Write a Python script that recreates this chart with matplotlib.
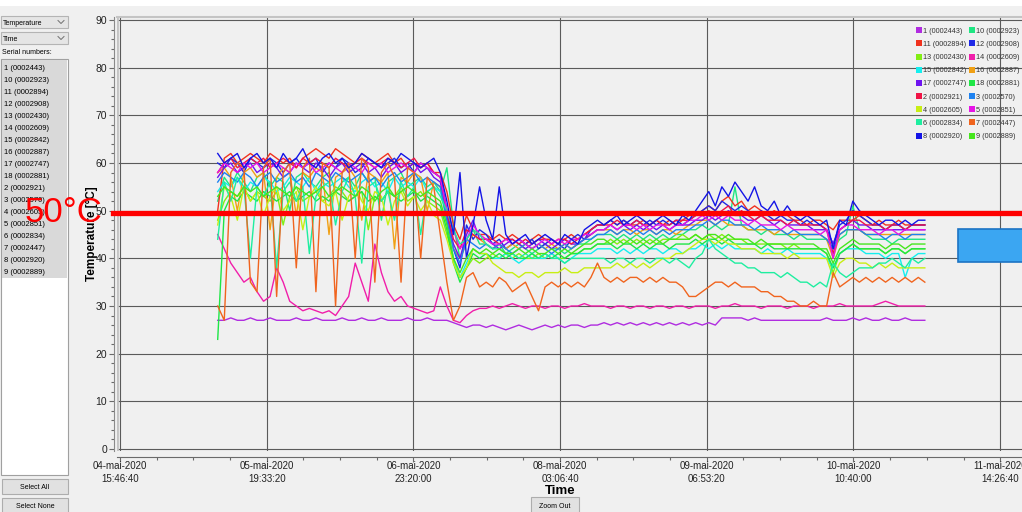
import numpy as np
import matplotlib
matplotlib.use("Agg")
import matplotlib.pyplot as plt
from matplotlib.patches import Rectangle
from matplotlib.lines import Line2D
from matplotlib.ticker import MultipleLocator

W, H = 1022, 512
SANS = ['Liberation Sans', 'DejaVu Sans']

# logger samples, hours after 04-mai-2020 15:46:40
hours = np.linspace(18.5, 152.4, 109)

tick_hours = [0, 27.778, 55.556, 83.333, 111.111, 138.889, 166.667]
tick_labels = ['04-mai-2020\n15:46:40', '05-mai-2020\n19:33:20', '06-mai-2020\n23:20:00',
               '08-mai-2020\n03:06:40', '09-mai-2020\n06:53:20', '10-mai-2020\n10:40:00',
               '11-mai-2020\n14:26:40']

serials = ['1 (0002443)', '10 (0002923)', '11 (0002894)', '12 (0002908)', '13 (0002430)',
           '14 (0002609)', '15 (0002842)', '16 (0002887)', '17 (0002747)', '18 (0002881)',
           '2 (0002921)', '3 (0002570)', '4 (0002605)', '5 (0002851)', '6 (0002834)',
           '7 (0002447)', '8 (0002920)', '9 (0002889)']
colors = ['#B02CE0', '#1EE682', '#F0321E', '#1E28E6', '#82EE14', '#F01EAA', '#14EEEE', '#F0A014',
          '#6E14F0', '#1EE646', '#F01446', '#1E82F0', '#C8EE14', '#E614E6', '#1EEEA0', '#F0641E',
          '#1414E6', '#46E61E']

# temperatures [°C]
temp_1 = [27, 27, 27.5, 27, 27, 27.5, 27, 27, 27.5, 27, 27, 27, 27.5, 27, 27, 27.5, 27, 27,
          27, 27.5, 27, 27, 27.5, 27, 27, 27.5, 27, 27, 27, 27.5, 27, 27, 27.5, 27, 27,
          27, 26.5, 26, 25.5, 26, 26,
          25.5, 26, 25.5, 25, 25.5, 26, 25.5, 25, 25.5, 26, 25.5, 26, 25.5, 26, 26, 25.5, 26, 26,
          26.5, 26, 26.5, 26, 26.5, 26, 26.5, 26, 26.5, 26, 26.5, 26, 26.5, 26, 26.5, 26, 26.5,
          26, 27.5, 27.5, 27.5, 27.5, 27, 27.5, 27, 27, 27, 27, 27, 27, 27, 27, 27, 27, 27.5,
          27, 27, 27, 27.5, 27, 27.5, 27, 27, 27.5, 27, 27, 27.5, 27, 27, 27]
temp_10 = [52, 57, 55, 58, 56, 54, 57, 58, 55, 57, 56, 50, 57, 58, 56, 55, 57, 58, 54, 56,
           57, 55, 58, 56, 57, 48, 56, 57, 58, 55, 56, 57, 55, 56, 54,
           59, 47, 40, 44, 46, 43,
           43, 42, 43, 41, 42, 43, 42, 41, 42, 43, 42, 42, 41, 42, 43, 43, 44, 45,
           45, 45, 44, 45, 44, 45, 44, 45, 44, 45, 44, 45, 45, 46, 46, 47, 46, 47, 46, 47,
           55, 47, 46, 46, 45, 46, 45, 45, 45, 44, 45, 44, 44, 44, 44, 42, 44, 45, 51, 46,
           45, 44, 44, 44, 43, 44, 44, 44, 44, 44]
temp_11 = [50, 61, 62, 60, 61, 62, 61, 60, 62, 61, 60, 61, 59, 61, 62, 63, 62, 61, 63, 62,
           61, 60, 62, 61, 60, 61, 62, 60, 61, 59, 60, 59, 60, 58, 58,
           54, 47, 44, 49, 46, 45,
           45, 44, 45, 44, 45, 44, 43, 44, 45, 44, 44, 43, 44, 45, 44, 45, 46, 47,
           47, 48, 47, 48, 47, 47, 48, 47, 48, 47, 48, 47, 48, 49, 49, 50, 51, 50, 52, 53,
           51, 52, 50, 51, 50, 49, 50, 49, 49, 48, 48, 47, 48, 48, 47, 46, 48, 48, 48, 49,
           48, 47, 48, 47, 47, 48, 47, 47, 47, 47]
temp_12 = [60, 59, 61, 60, 58, 61, 60, 59, 61, 60, 58, 60, 61, 59, 60, 61, 58, 60, 59, 61,
           60, 58, 59, 61, 60, 59, 60, 61, 59, 60, 58, 60, 59, 58, 57,
           50, 42, 38, 47, 44, 46,
           45, 43, 44, 42, 43, 44, 43, 44, 42, 43, 44, 43, 42, 44, 45, 44, 46, 47,
           47, 48, 47, 48, 47, 48, 47, 48, 47, 48, 47, 48, 47, 48, 49, 50, 51, 50, 52, 51,
           50, 51, 50, 49, 50, 49, 48, 49, 48, 48, 47, 48, 47, 47, 46, 43, 47, 48, 50, 49,
           48, 47, 47, 46, 47, 47, 46, 47, 47, 47]
temp_13 = [48, 52, 54, 53, 55, 52, 54, 53, 52, 54, 47, 53, 55, 52, 53, 54, 52, 53, 55, 54,
           52, 53, 54, 46, 53, 52, 54, 53, 55, 52, 53, 54, 52, 51, 50,
           45, 40, 36, 38, 40, 39,
           40, 41, 40, 41, 40, 41, 40, 40, 41, 40, 41, 40, 40, 41, 41, 42, 42, 43,
           43, 44, 43, 44, 43, 44, 43, 44, 43, 44, 44, 44, 45, 44, 45, 44, 45, 44, 45, 44,
           44, 44, 43, 43, 43, 43, 43, 43, 42, 43, 42, 42, 42, 42, 41, 37, 41, 42, 43, 42,
           42, 42, 42, 41, 42, 42, 41, 42, 42, 42]
temp_14 = [45, 42, 39, 37, 35, 36, 33, 31, 32, 38, 35, 31, 30, 29, 29.5, 29, 28.5, 29, 28, 30,
           32, 39, 35, 31, 43, 37, 33, 31, 32, 30, 29.5, 29, 28.5, 29, 34,
           30, 27, 26.5, 28, 29, 29.5,
           29.5, 30, 29.5, 30, 30.5, 30, 29.5, 30, 30, 29.5, 30, 30, 29.5, 30, 30, 30.5, 30, 30,
           30, 29.5, 30, 30, 29.5, 30, 30, 29.5, 30, 30, 29.5, 30, 30, 29.5, 30, 30, 30, 29.5,
           30, 30, 30.5, 30, 30, 30, 29.5, 30, 30, 30, 29.5, 30, 30, 30, 29.5, 30, 30, 30, 30.5,
           30, 30, 30, 30, 30, 30.5, 31, 30.5, 30, 30, 30, 30, 30]
temp_15 = [54, 56, 55, 57, 54, 56, 55, 57, 56, 54, 55, 57, 56, 55, 57, 54, 56, 55, 56, 57,
           55, 54, 56, 57, 55, 56, 54, 57, 55, 56, 55, 57, 54, 55, 54,
           48, 40, 36, 39, 42, 41,
           41, 40, 40, 41, 40, 39, 40, 41, 40, 40, 41, 40, 39, 40, 41, 41, 41, 42,
           42, 42, 41, 42, 41, 42, 41, 42, 42, 41, 42, 42, 41, 42, 42, 43, 42, 43, 42, 43,
           42, 42, 42, 42, 41, 42, 41, 41, 42, 41, 41, 41, 41, 41, 40, 38, 41, 42, 42, 42,
           41, 41, 41, 40, 41, 41, 36, 40, 41, 41]
temp_16 = [58, 59, 57, 50, 58, 59, 57, 58, 46, 57, 59, 58, 49, 58, 57, 59, 58, 45, 57, 58,
           59, 57, 48, 58, 57, 56, 58, 42, 57, 56, 58, 57, 50, 56, 55,
           48, 42, 40, 43, 45, 44,
           43, 42, 43, 42, 43, 42, 43, 42, 43, 42, 43, 42, 43, 42, 43, 44, 45, 46,
           46, 46, 45, 46, 46, 45, 46, 46, 45, 46, 46, 45, 46, 47, 47, 48, 48, 47, 48, 47,
           47, 47, 46, 46, 46, 46, 45, 46, 45, 45, 45, 45, 45, 45, 44, 40, 45, 46, 46, 46,
           45, 45, 45, 45, 45, 45, 45, 45, 45, 45]
temp_17 = [57, 59, 60, 58, 59, 60, 58, 59, 60, 59, 57, 58, 60, 59, 58, 60, 59, 57, 59, 60,
           58, 59, 60, 58, 59, 57, 59, 60, 58, 59, 60, 58, 59, 57, 56,
           49, 43, 40, 45, 48, 44,
           44, 43, 42, 43, 44, 43, 42, 43, 44, 43, 42, 43, 44, 43, 43, 44, 45, 46,
           46, 47, 46, 47, 46, 47, 46, 47, 46, 47, 46, 47, 47, 47, 48, 48, 49, 48, 49, 50,
           49, 49, 48, 48, 49, 48, 47, 48, 47, 47, 47, 47, 46, 46, 46, 43, 46, 47, 48, 47,
           47, 46, 46, 46, 46, 46, 46, 46, 46, 46]
temp_18 = [23, 50, 53, 52, 54, 53, 52, 54, 53, 52, 53, 54, 52, 53, 54, 52, 53, 52, 54, 53,
           52, 53, 54, 52, 53, 52, 54, 53, 52, 53, 54, 52, 53, 52, 51,
           46, 39, 35, 38, 41, 40,
           41, 40, 41, 40, 41, 40, 40, 41, 40, 41, 40, 41, 40, 41, 41, 42, 42, 43,
           43, 43, 42, 43, 43, 42, 43, 42, 43, 43, 42, 43, 43, 43, 44, 43, 44, 44, 43, 44,
           43, 43, 43, 43, 42, 43, 42, 42, 42, 42, 42, 42, 42, 42, 41, 38, 41, 42, 43, 42,
           42, 42, 42, 41, 42, 42, 41, 42, 42, 42]
temp_2 = [58, 60, 61, 59, 60, 61, 60, 61, 59, 60, 61, 60, 59, 61, 60, 61, 60, 59, 61, 60,
          59, 60, 61, 60, 59, 60, 61, 60, 59, 60, 61, 59, 60, 58, 57,
          50, 44, 42, 46, 45, 44,
          44, 44, 43, 44, 44, 43, 44, 43, 44, 44, 43, 44, 44, 43, 44, 45, 46, 47,
          47, 47, 48, 47, 47, 48, 47, 47, 48, 47, 47, 48, 48, 48, 49, 49, 50, 49, 50, 51,
          49, 50, 49, 48, 49, 48, 48, 48, 47, 48, 47, 47, 47, 47, 46, 41, 46, 47, 48, 48,
          47, 47, 47, 46, 47, 47, 46, 47, 47, 47]
temp_3 = [56, 58, 57, 56, 58, 57, 55, 57, 58, 56, 57, 58, 56, 57, 55, 58, 57, 56, 58, 57,
          56, 57, 58, 56, 57, 55, 57, 58, 56, 57, 58, 56, 57, 56, 55,
          48, 42, 39, 44, 43, 42,
          43, 42, 43, 42, 41, 42, 43, 42, 43, 42, 41, 42, 43, 42, 43, 44, 44, 45,
          45, 46, 45, 46, 45, 46, 45, 46, 45, 46, 45, 46, 46, 46, 47, 47, 48, 47, 48, 48,
          47, 47, 47, 46, 47, 46, 46, 46, 45, 46, 45, 45, 45, 45, 44, 42, 45, 46, 46, 46,
          45, 45, 45, 44, 45, 45, 44, 45, 45, 45]
temp_4 = [47, 55, 53, 48, 55, 52, 54, 49, 53, 55, 50, 52, 54, 46, 53, 55, 52, 51, 54, 48,
          53, 55, 52, 50, 54, 53, 47, 52, 54, 51, 53, 50, 52, 49, 48,
          44, 39, 36, 38, 42, 41,
          41, 39, 38, 37, 37, 36, 37, 37, 36, 37, 37, 37, 38, 37, 37, 38, 38, 38,
          38, 38, 39, 38, 39, 38, 39, 38, 39, 40, 40, 41, 41, 42, 43, 44, 44, 43, 44, 43,
          43, 42, 42, 42, 41, 41, 41, 41, 40, 41, 40, 40, 40, 40, 40, 36, 39, 40, 40, 39,
          39, 38, 39, 38, 39, 38, 38, 38, 38, 38]
temp_5 = [58, 60, 59, 58, 60, 59, 60, 58, 59, 60, 59, 58, 60, 59, 60, 58, 59, 60, 59, 58,
          60, 59, 58, 60, 59, 60, 58, 59, 60, 59, 58, 60, 59, 58, 57,
          50, 46, 42, 44, 47, 45,
          44, 43, 43, 44, 43, 44, 43, 42, 43, 44, 43, 44, 43, 44, 44, 45, 45, 46,
          46, 47, 46, 47, 47, 46, 47, 46, 47, 47, 46, 47, 47, 48, 48, 49, 48, 49, 48, 49,
          48, 48, 47, 48, 47, 47, 47, 46, 47, 46, 46, 46, 46, 45, 46, 40, 46, 47, 47, 46,
          46, 46, 45, 46, 46, 45, 46, 46, 46, 46]
temp_6 = [44, 56, 52, 57, 55, 40, 55, 53, 56, 38, 54, 56, 52, 55, 41, 53, 55, 56, 47, 54,
          57, 53, 39, 55, 56, 52, 54, 48, 56, 53, 55, 45, 54, 55, 53,
          50, 46, 43, 44, 46, 45,
          43, 42, 42, 41, 41, 40, 41, 40, 40, 41, 40, 40, 39, 40, 40, 40, 40, 40,
          40, 39, 40, 40, 39, 40, 40, 39, 40, 40, 39, 40, 39, 38, 40, 41, 44, 42, 41, 40,
          39, 39, 38, 38, 37, 37, 37, 36, 37, 36, 35, 35, 34, 35, 34, 39, 37, 36, 37, 38,
          38, 38, 39, 39, 40, 39, 38, 40, 39, 40]
temp_7 = [30, 27, 58, 60, 59, 35, 33, 59, 61, 32, 58, 60, 38, 59, 61, 33, 60, 59, 30, 58,
          60, 40, 61, 59, 35, 58, 60, 57, 35, 59, 58, 40, 57, 55, 45,
          35, 27, 30, 36, 37, 34,
          35, 34, 36, 35, 33, 34, 35, 32, 29, 34, 35, 34, 35, 34, 35, 34, 36, 39,
          36, 35, 36, 35, 36, 36, 35, 36, 35, 36, 35, 35, 34, 32, 32, 33, 34, 35, 35, 34,
          35, 34, 34, 34, 33, 33, 32, 32, 31, 31, 30, 30, 31, 30, 30, 37, 34, 35, 36, 35,
          36, 35, 36, 35, 36, 35, 36, 35, 36, 35]
temp_8 = [62, 60, 61, 62, 59, 61, 62, 60, 61, 59, 62, 60, 61, 63, 60, 59, 61, 62, 60, 61,
          59, 60, 62, 61, 60, 59, 61, 60, 62, 61, 60, 59, 60, 61, 58,
          52, 45, 58, 40, 47, 55,
          48, 44, 55, 45, 43, 44, 45, 43, 44, 45, 44, 43, 45, 44, 43, 46, 47, 48,
          47, 48, 49, 47, 48, 49, 48, 47, 48, 49, 48, 47, 49, 48, 50, 52, 54, 51, 55, 53,
          56, 54, 52, 55, 51, 50, 52, 49, 51, 49, 48, 49, 48, 47, 48, 42, 48, 47, 52, 50,
          49, 48, 47, 48, 48, 47, 48, 47, 48, 48]
temp_9 = [53, 55, 54, 53, 55, 54, 55, 53, 54, 55, 54, 53, 55, 54, 53, 54, 55, 53, 54, 55,
          54, 53, 55, 54, 52, 54, 55, 53, 54, 55, 54, 53, 54, 53, 52,
          47, 40, 37, 40, 42, 41,
          42, 41, 42, 41, 41, 42, 41, 42, 41, 41, 42, 41, 42, 41, 42, 43, 43, 44,
          44, 43, 44, 43, 44, 43, 44, 43, 44, 43, 44, 44, 44, 44, 45, 44, 45, 45, 44, 45,
          44, 44, 44, 43, 44, 43, 43, 43, 43, 43, 43, 43, 43, 42, 42, 39, 42, 43, 44, 43,
          43, 43, 43, 42, 43, 43, 42, 43, 43, 43]

series = [temp_1, temp_10, temp_11, temp_12, temp_13, temp_14, temp_15, temp_16, temp_17,
          temp_18, temp_2, temp_3, temp_4, temp_5, temp_6, temp_7, temp_8, temp_9]

marker_value = 49.5

fig = plt.figure(figsize=(W / 100, H / 100), dpi=100, facecolor='#F0F0F0')


def fx(x):
    return x / W


def fy(y):
    return 1 - y / H


def box(x0, y0, x1, y1, fc, ec, lw=0.8):
    fig.add_artist(Rectangle((fx(x0), fy(y1)), (x1 - x0) / W, (y1 - y0) / H,
                             transform=fig.transFigure, fc=fc, ec=ec, lw=lw))


def label(x, y, s, **kw):
    kw.setdefault('family', SANS)
    kw.setdefault('fontsize', 5.5)
    fig.text(fx(x), fy(y), s, **kw)


# top strip
box(0, 0, W, 6, '#FFFFFF', 'none', 0)

ax = fig.add_axes([fx(117), fy(451), (W - 117) / W, (451 - 17) / H])
ax.set_facecolor('#F0F0F0')

for vals, c in zip(series, colors):
    ax.plot(hours, vals, color=c, lw=1.0)

ax.set_xlim(-0.57, 170.8)
ax.set_ylim(-0.42, 90.63)
ax.set_xticks(tick_hours, tick_labels)
ax.xaxis.set_minor_locator(MultipleLocator(27.778 / 4))
ax.set_yticks(range(0, 91, 10))
ax.yaxis.set_minor_locator(MultipleLocator(2))
ax.grid(True, which='major', color='#5A5A5A', lw=0.8)
ax.set_axisbelow(True)

ax.spines['right'].set_visible(False)
ax.spines['top'].set_color('#C4C4C4')
ax.spines['top'].set_linewidth(1.5)
ax.spines['left'].set_position(('outward', 2))
ax.spines['left'].set_color('#8A8A8A')
ax.spines['bottom'].set_position(('outward', 4))
ax.spines['bottom'].set_color('#6A6A6A')
ax.axvline(-0.57, color='#C4C4C4', lw=2)

ax.tick_params(axis='both', which='major', length=3.5, width=0.8, color='#6A6A6A',
               labelcolor='#222222')
ax.tick_params(axis='both', which='minor', length=2, width=0.8, color='#6A6A6A')
ax.tick_params(axis='y', labelsize=7.5, pad=1.5)
ax.tick_params(axis='x', labelsize=7, pad=-0.5)
for t in ax.get_xticklabels() + ax.get_yticklabels():
    t.set_family(SANS)
for t in ax.get_xticklabels():
    t.set_linespacing(1.4)

ax.set_ylabel('Temperature [°C]', fontsize=8.5, fontweight='bold', family=SANS)
ax.yaxis.set_label_coords(-0.021, 0.5)
ax.set_xlabel('Time', fontsize=9.5, fontweight='bold', family=SANS)
ax.xaxis.set_label_coords(0.4895, -0.079)

# legend, row-major order like the original
order = [0, 2, 4, 6, 8, 10, 12, 14, 16, 1, 3, 5, 7, 9, 11, 13, 15, 17]
handles = [Line2D([], [], ls='none', marker='s', markersize=4, color=colors[i],
                  markeredgewidth=0) for i in order]
fig.legend(handles, [serials[i] for i in order], ncol=2, loc='upper left',
           bbox_to_anchor=(fx(913), fy(24)), frameon=False, borderpad=0,
           prop={'family': SANS, 'size': 5.2}, labelcolor='#333333',
           handlelength=0.7, handletextpad=0.2, columnspacing=0.35, labelspacing=0.85)

# left control panel
box(1, 16, 68, 28, '#E5E5E5', '#B4B4B4')
label(3, 25, 'Temperature', fontsize=5)
box(1, 32, 68, 44, '#E5E5E5', '#B4B4B4')
label(3, 41, 'Time', fontsize=5)
for cy in (22, 38):
    fig.add_artist(Line2D([fx(58), fx(61), fx(64)], [fy(cy - 1.5), fy(cy + 1.5), fy(cy - 1.5)],
                          transform=fig.transFigure, color='#707070', lw=0.7))
label(1.5, 54, 'Serial numbers:', fontsize=5)
box(1, 59, 68, 475, '#FFFFFF', '#A0A0A0')
box(2, 60, 67, 278, '#D9D9D9', 'none', 0)
for k, s in enumerate(serials):
    label(3.5, 69.5 + k * 12.05, s)
box(2, 479, 68, 494, '#E1E1E1', '#ADADAD')
label(35, 489, 'Select All', fontsize=5, ha='center')
box(2, 498, 68, 513, '#E1E1E1', '#ADADAD')
label(35, 508, 'Select None', fontsize=5, ha='center')
box(531, 497, 579, 513, '#E1E1E1', '#ADADAD')
label(555, 507.5, 'Zoom Out', fontsize=5, ha='center')

# overlay annotations
fig.add_artist(Line2D([fx(113), 1], [fy(449 - marker_value * 4.767)] * 2,
                      transform=fig.transFigure, color='#FF0000', lw=3.8))
label(25, 222, '50°C', fontsize=25, color='#FF0000')
box(958, 229, 1030, 262, '#3BA6F2', '#1C74C4', 1.2)

fig.savefig('out.png', dpi=100, facecolor=fig.get_facecolor())
